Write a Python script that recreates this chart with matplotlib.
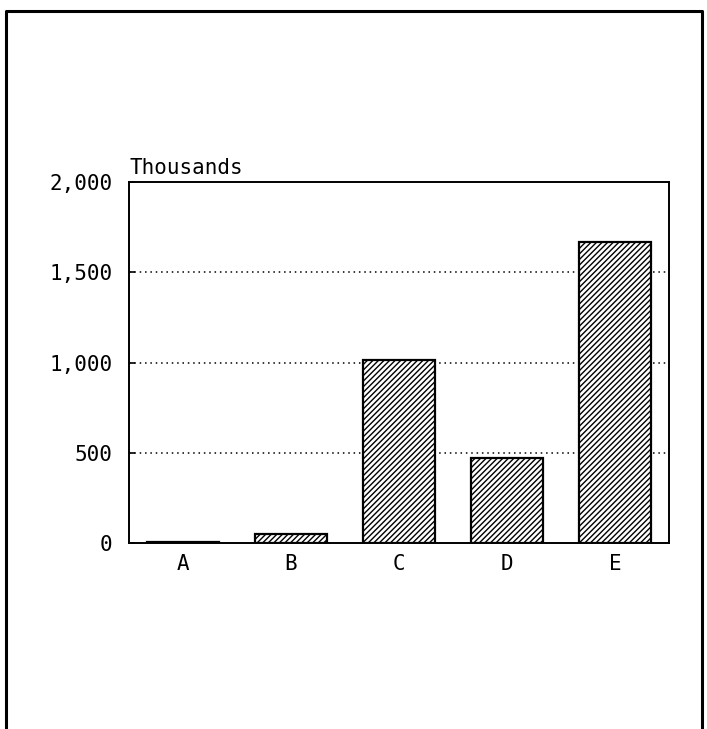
import matplotlib.pyplot as plt
from matplotlib.lines import Line2D

# data (values in thousands)
categories = ['A', 'B', 'C', 'D', 'E']
values = [3, 52, 1012, 470, 1665]
yticks = [0, 500, 1000, 1500, 2000]
ytick_labels = ['0', '500', '1,000', '1,500', '2,000']

plt.rcParams['font.family'] = ['DejaVu Sans Mono']
plt.rcParams['hatch.linewidth'] = 1.0

fig = plt.figure(figsize=(7.07, 7.29), dpi=100)
ax = fig.add_axes([0.1825, 0.2551, 0.7638, 0.4952])

x = range(len(categories))
ax.bar(x, values, width=0.667, color='white', edgecolor='black',
       linewidth=1.6, hatch='//////', zorder=3)

ax.set_xlim(-0.5, len(categories) - 0.5)
ax.set_ylim(0, 2000)
ax.set_yticks(yticks)
ax.set_yticklabels(ytick_labels, fontsize=15)
ax.set_xticks(list(x))
ax.set_xticklabels(categories, fontsize=15)

ax.tick_params(axis='y', direction='in', length=4, width=1.2, pad=12)
ax.tick_params(axis='x', length=0, pad=8)

for s in ax.spines.values():
    s.set_linewidth(1.4)

# dotted grid lines at 500, 1000, 1500
for yv in yticks[1:-1]:
    ax.axhline(yv, color='black', linestyle=(0, (1, 2.5)), linewidth=1.1,
               zorder=1)

ax.text(0.0, 1.01, 'Thousands', transform=ax.transAxes, ha='left',
        va='bottom', fontsize=15)

# outer frame (open at the bottom)
frame_x = [0.0085, 0.0085, 0.9929, 0.9929]
frame_y = [0.0, 0.9849, 0.9849, 0.0]
fig.add_artist(Line2D(frame_x, frame_y, color='black', linewidth=2.2,
                      transform=fig.transFigure))

fig.savefig('out.png', dpi=100)
